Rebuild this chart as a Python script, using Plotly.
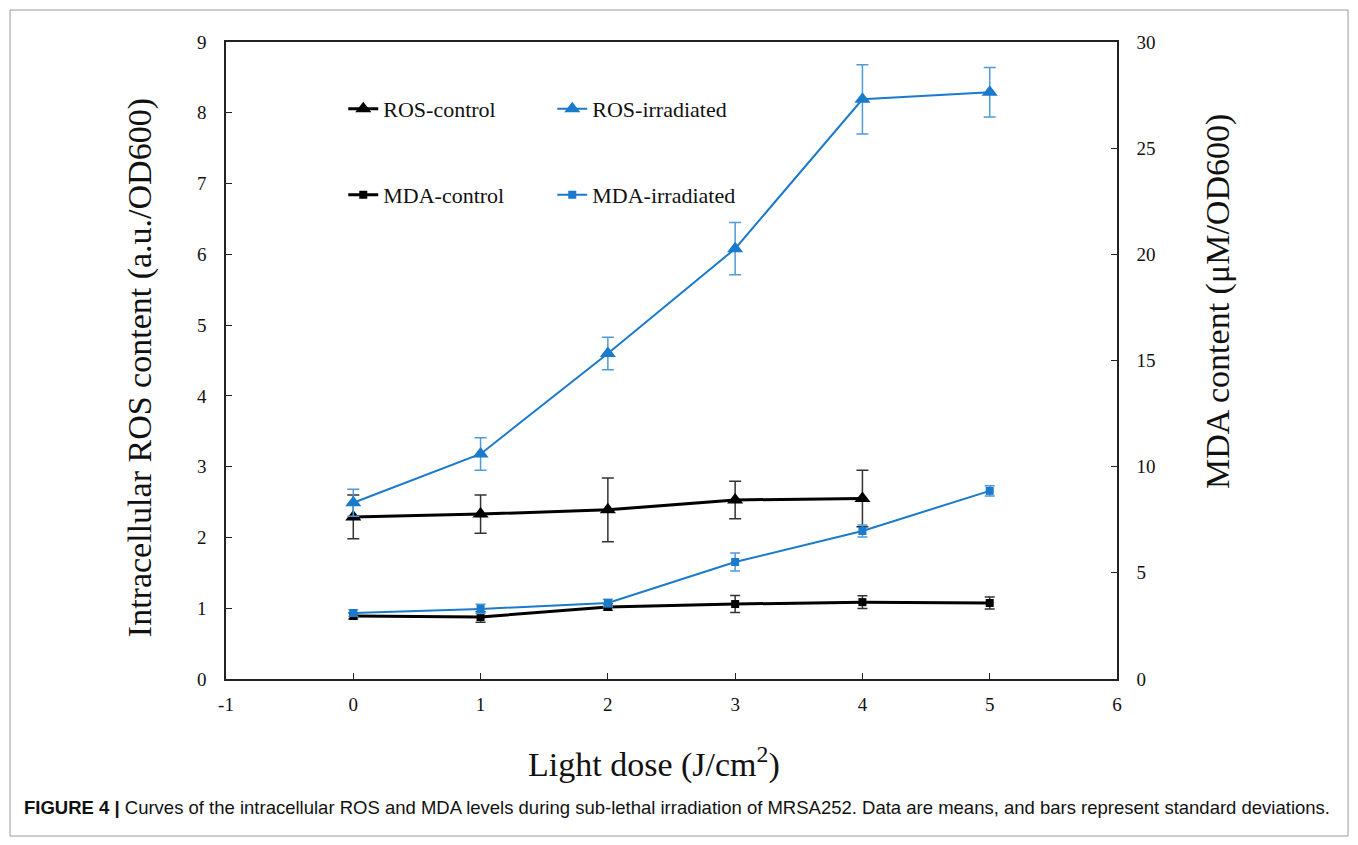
import plotly.graph_objects as go

# ---- data ----
dose = [0, 1, 2, 3, 4, 5]

ros_control = [2.29, 2.33, 2.39, 2.53, 2.55]
ros_control_sd = [0.31, 0.27, 0.45, 0.265, 0.40]

ros_irradiated = [2.49, 3.18, 4.60, 6.08, 8.19, 8.29]
ros_irradiated_sd = [0.19, 0.23, 0.23, 0.37, 0.49, 0.35]

mda_control = [2.97, 2.92, 3.39, 3.53, 3.62, 3.58]
mda_control_sd = [0.15, 0.25, 0.15, 0.40, 0.30, 0.28]

mda_irradiated = [3.11, 3.30, 3.58, 5.51, 6.97, 8.86]
mda_irradiated_sd = [0.15, 0.22, 0.18, 0.42, 0.28, 0.24]

x_ticks = [-1, 0, 1, 2, 3, 4, 5, 6]
x_ticktext = ["-1", "0", "1", "2", "3", "4", "5", "6"]
left_ticks = [0, 1, 2, 3, 4, 5, 6, 7, 8, 9]
right_ticks = [0, 5, 10, 15, 20, 25, 30]

BLACK = "#000000"
BLUE = "#1a7acb"
EBLUE = "#4f9ad8"
SERIF = "Liberation Serif, Times New Roman, serif"

fig = go.Figure()

fig.add_trace(go.Scatter(
    x=dose[:len(ros_control)], y=ros_control, name="ROS-control",
    mode="lines+markers", line=dict(color=BLACK, width=3),
    marker=dict(symbol="triangle-up", size=14, color=BLACK),
    error_y=dict(type="data", array=ros_control_sd, color="#333333", thickness=1.5, width=6),
    legend="legend", yaxis="y"))

fig.add_trace(go.Scatter(
    x=dose, y=ros_irradiated, name="ROS-irradiated",
    mode="lines+markers", line=dict(color=BLUE, width=2),
    marker=dict(symbol="triangle-up", size=14, color=BLUE),
    error_y=dict(type="data", array=ros_irradiated_sd, color=EBLUE, thickness=1.5, width=6),
    legend="legend", yaxis="y"))

fig.add_trace(go.Scatter(
    x=dose, y=mda_control, name="MDA-control",
    mode="lines+markers", line=dict(color=BLACK, width=3),
    marker=dict(symbol="square", size=8, color=BLACK),
    error_y=dict(type="data", array=mda_control_sd, color="#333333", thickness=1.5, width=5),
    legend="legend2", yaxis="y2"))

fig.add_trace(go.Scatter(
    x=dose, y=mda_irradiated, name="MDA-irradiated",
    mode="lines+markers", line=dict(color=BLUE, width=2),
    marker=dict(symbol="square", size=8, color=BLUE),
    error_y=dict(type="data", array=mda_irradiated_sd, color=EBLUE, thickness=1.5, width=5),
    legend="legend2", yaxis="y2"))

axis_common = dict(showgrid=False, zeroline=False, showline=True, linecolor="#222222",
                   linewidth=1.5, ticks="inside", ticklen=6, tickcolor="#222222",
                   tickfont=dict(family=SERIF, size=19, color="#111111"))

legend_common = dict(orientation="h", xanchor="left", yanchor="middle",
                     entrywidth=164, entrywidthmode="pixels", bgcolor="rgba(0,0,0,0)",
                     font=dict(family=SERIF, size=22, color="#111111"))

fig.update_layout(
    width=1350, height=837,
    paper_bgcolor="white", plot_bgcolor="white",
    margin=dict(l=218, r=241, t=34, b=166, autoexpand=False),
    showlegend=True,
    xaxis=dict(range=[-1, 6], tickvals=x_ticks, ticktext=x_ticktext, mirror=True,
               ticklabelstandoff=7, **axis_common),
    yaxis=dict(range=[0, 9], tickvals=left_ticks, mirror=True, ticklabelstandoff=14, **axis_common),
    yaxis2=dict(range=[0, 30], tickvals=right_ticks, overlaying="y", side="right",
                ticklabelstandoff=14, **axis_common),
    legend=dict(x=0.1316, y=0.895, **legend_common),
    legend2=dict(x=0.1316, y=0.76, **legend_common),
)

fig.add_annotation(text="Intracellular ROS content (a.u./OD600)", xref="paper", yref="paper",
                   x=-0.0965, y=0.488, xanchor="center", yanchor="middle", textangle=-90,
                   showarrow=False, font=dict(family=SERIF, size=34, color="#111111"))
fig.add_annotation(text="MDA content (μM/OD600)", xref="paper", yref="paper",
                   x=1.1134, y=0.592, xanchor="center", yanchor="middle", textangle=-90,
                   showarrow=False, font=dict(family=SERIF, size=34, color="#111111"))
fig.add_annotation(text="Light dose (J/cm<sup>2</sup>)", xref="paper", yref="paper",
                   x=0.480, y=-0.131, xanchor="center", yanchor="middle", showarrow=False,
                   font=dict(family=SERIF, size=34, color="#111111"))
fig.add_annotation(
    text="<b>FIGURE 4 |</b> Curves of the intracellular ROS and MDA levels during sub-lethal irradiation of MRSA252. Data are means, and bars represent standard deviations.",
    xref="paper", yref="paper", x=-0.229, y=-0.2025, xanchor="left", yanchor="middle",
    showarrow=False, font=dict(family="Liberation Sans, Arial, sans-serif", size=18.5, color="#111111"))

fig.add_shape(type="rect", xref="paper", yref="paper", x0=-0.2424, x1=1.2593, y0=-0.2465, y1=1.0502,
              line=dict(color="#999999", width=1), fillcolor="rgba(0,0,0,0)", layer="below")

fig.write_html("out.html")
